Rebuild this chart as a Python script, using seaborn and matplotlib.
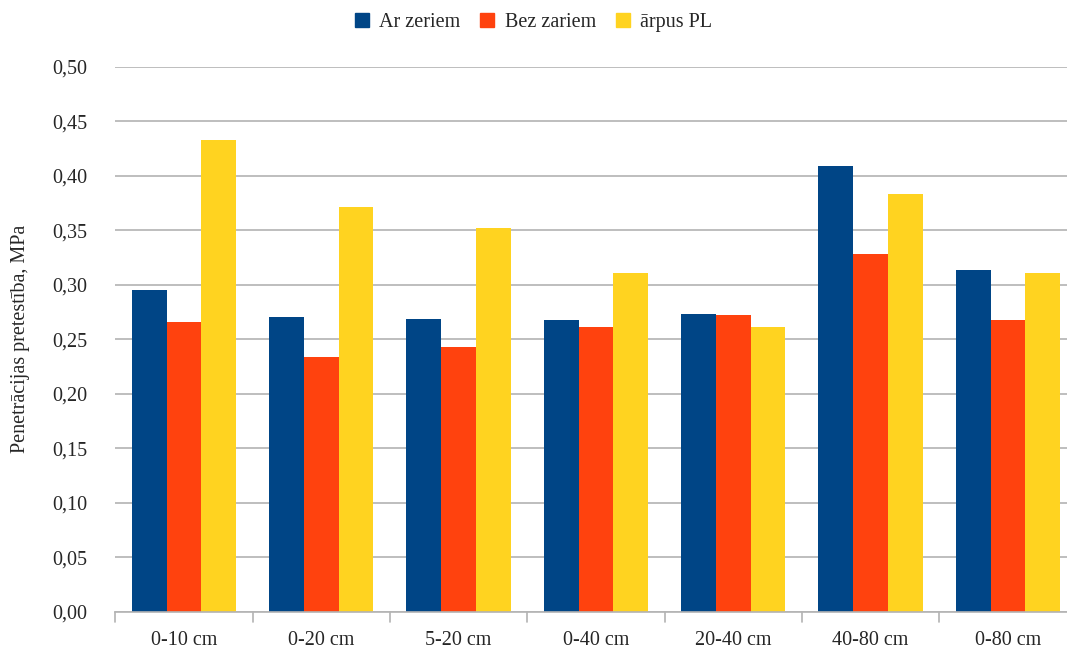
import matplotlib
matplotlib.use("Agg")
import matplotlib.pyplot as plt
import seaborn as sns
import pandas as pd
from matplotlib.lines import Line2D

# Depth intervals and measured penetration resistance (MPa)
depths = ["0-10 cm", "0-20 cm", "5-20 cm", "0-40 cm", "20-40 cm", "40-80 cm", "0-80 cm"]
ar_zeriem = [0.295, 0.270, 0.269, 0.268, 0.273, 0.409, 0.314]
bez_zariem = [0.266, 0.234, 0.243, 0.261, 0.272, 0.328, 0.268]
arpus_pl = [0.433, 0.371, 0.352, 0.311, 0.261, 0.383, 0.311]
series_names = ["Ar zeriem", "Bez zariem", "ārpus PL"]
colors = ["#004586", "#ff420e", "#ffd320"]
yticks = [0.00, 0.05, 0.10, 0.15, 0.20, 0.25, 0.30, 0.35, 0.40, 0.45, 0.50]

rows = []
for name, vals in zip(series_names, [ar_zeriem, bez_zariem, arpus_pl]):
    for d, v in zip(depths, vals):
        rows.append({"depth": d, "series": name, "value": v})
df = pd.DataFrame(rows)

sns.set_theme(style="white")
plt.rcParams["font.family"] = ["Liberation Serif", "DejaVu Serif"]

fig = plt.figure(figsize=(10.67, 6.55), dpi=100)
ax = fig.add_axes([0.108, 0.066, 0.901, 0.832])

sns.barplot(data=df, x="depth", y="value", hue="series", order=depths,
            hue_order=series_names, palette=colors, width=0.76,
            saturation=1, ax=ax, legend=False, linewidth=0)

ax.set_ylim(0, 0.5)
ax.set_xlim(-0.5, len(depths) - 0.5)
ax.set_yticks(yticks)
ax.set_yticklabels([f"{t:.2f}".replace(".", ",") for t in yticks], fontsize=14.5)
ax.yaxis.grid(True, color="#b3b3b3", linewidth=1.2)
ax.set_axisbelow(True)
ax.tick_params(axis="y", length=0, pad=20)

# Category labels between separator ticks
ax.set_xticks(range(len(depths)))
ax.set_xticklabels(depths, fontsize=14.5)
ax.tick_params(axis="x", length=0, pad=14)
for b in [i - 0.5 for i in range(len(depths) + 1)]:
    ax.plot([b, b], [0, -0.0095], color="#b3b3b3", linewidth=1.2, clip_on=False)

for side in ["left", "right", "top"]:
    ax.spines[side].set_visible(False)
ax.spines["bottom"].set_color("#b3b3b3")
ax.spines["bottom"].set_linewidth(1.2)

ax.set_xlabel("")
ax.set_ylabel("Penetrācijas pretestība, MPa", fontsize=14.5, labelpad=16)

handles = [Line2D([0], [0], marker="s", linestyle="", markersize=9.5,
                  markerfacecolor=c, markeredgecolor=c) for c in colors]
fig.legend(handles, series_names, loc="upper center", ncol=3, frameon=False,
           bbox_to_anchor=(0.5, 1.008), fontsize=14.5, handlelength=0.7,
           handletextpad=0.5, columnspacing=1.0)

fig.savefig("out.png", dpi=100)
